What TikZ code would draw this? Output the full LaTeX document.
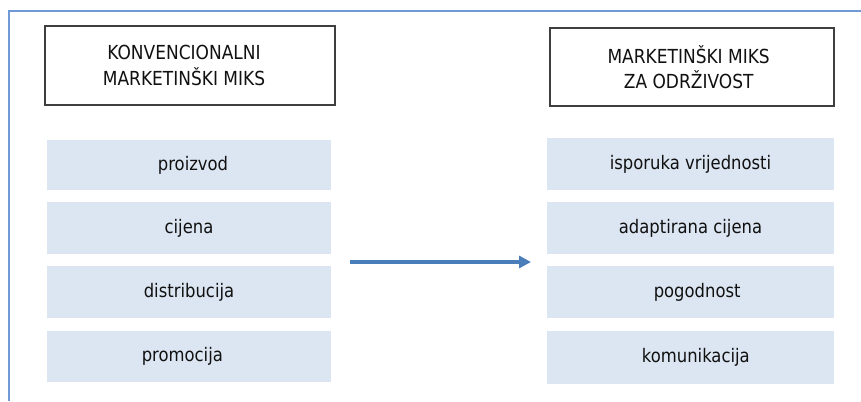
\documentclass[tikz,border=0pt]{standalone}
\usepackage{fontspec}
\setmainfont[FakeStretch=0.88]{DejaVu Sans}
\usetikzlibrary{arrows.meta}
\definecolor{framec}{HTML}{6F9AD6}
\definecolor{boxfill}{HTML}{DCE6F2}
\definecolor{arrowc}{HTML}{4A7EBB}
\definecolor{borderc}{HTML}{3F3F3F}
\definecolor{txt}{HTML}{111111}
\tikzset{
  header/.style={draw=borderc, line width=1.3pt, fill=white, align=center, text=txt,
    font=\fontsize{14.5}{19}\selectfont, inner sep=0pt},
  item/.style={fill=boxfill, draw=none, text=txt, font=\fontsize{14}{16}\selectfont, inner sep=0pt},
  flow/.style={draw=arrowc, line width=2.8pt, -{Triangle[length=9pt,width=9pt]}}
}
\begin{document}
\begin{tikzpicture}[x=0.75pt,y=-0.75pt]
\useasboundingbox (0,0) rectangle (861,401);
\draw[framec, line width=1.2pt] (861,11) -- (9,11) -- (9,401);
% headers
\node[header, minimum width=290*0.75pt, minimum height=79*0.75pt] (hl) at (190,65.5) {KONVENCIONALNI\hspace*{9pt}\\MARKETINŠKI MIKS\hspace*{9pt}};
\node[header, minimum width=284*0.75pt, minimum height=78*0.75pt] (hr) at (692,67) {MARKETINŠKI MIKS\hspace*{5pt}\\ZA ODRŽIVOST\hspace*{5pt}};
% left items
\node[item, minimum width=284*0.75pt, minimum height=50*0.75pt] (l1) at (189,165) {\hspace*{6pt}proizvod};
\node[item, minimum width=284*0.75pt, minimum height=52*0.75pt] (l2) at (189,228) {\raisebox{-2pt}{cijena}};
\node[item, minimum width=284*0.75pt, minimum height=52*0.75pt] (l3) at (189,292) {distribucija};
\node[item, minimum width=284*0.75pt, minimum height=51*0.75pt] (l4) at (189,356.5) {promocija\hspace*{10pt}};
% right items
\node[item, minimum width=287*0.75pt, minimum height=52*0.75pt] (r1) at (690.5,164) {isporuka vrijednosti};
\node[item, minimum width=287*0.75pt, minimum height=52*0.75pt] (r2) at (690.5,228) {adaptirana cijena};
\node[item, minimum width=287*0.75pt, minimum height=52*0.75pt] (r3) at (690.5,292) {\hspace*{10pt}pogodnost};
\node[item, minimum width=287*0.75pt, minimum height=53*0.75pt] (r4) at (690.5,357.5) {\hspace*{8pt}\raisebox{-3pt}{komunikacija}};
% arrow
\coordinate (as) at (350,262);
\coordinate (ae) at (531,262);
\draw[flow] (as) -- (ae);
\end{tikzpicture}
\end{document}
